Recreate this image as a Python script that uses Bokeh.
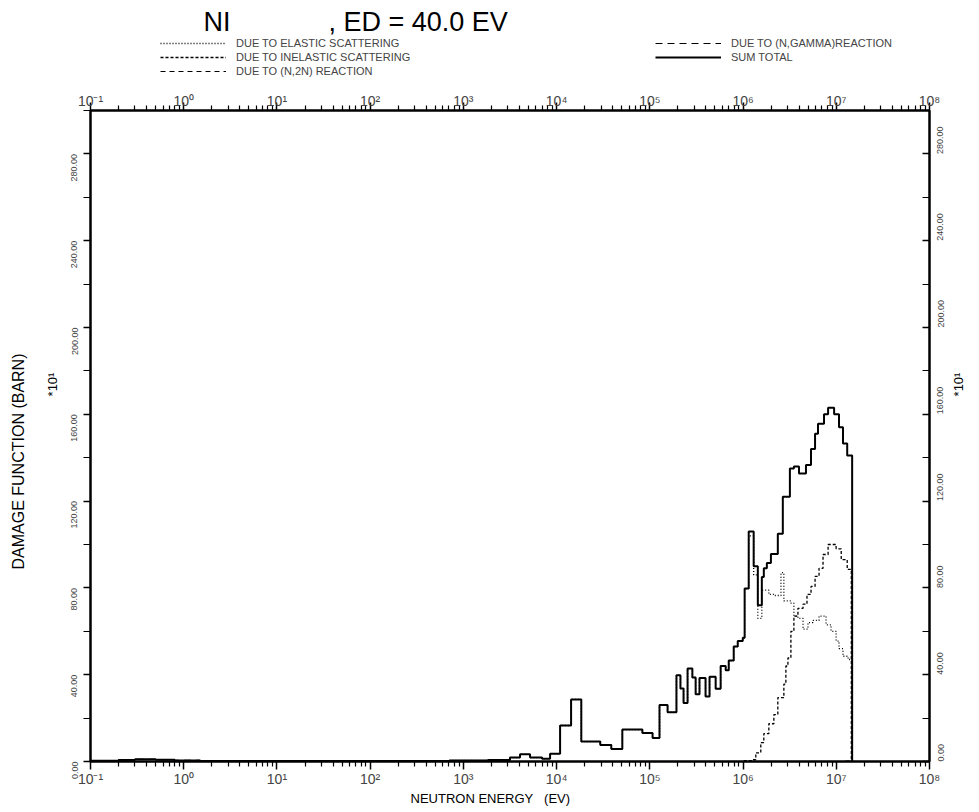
import math
from bokeh.plotting import figure
from bokeh.layouts import column, row
from bokeh.models import (LogAxis, LinearAxis, FixedTicker, NumeralTickFormatter,
                          CustomJSTickFormatter, Label, Legend, LegendItem, Range1d)
from bokeh.embed import file_html
from bokeh.resources import INLINE

# ---------------- texts ----------------
title_element = "NI"
title_rest = ", ED = 40.0 EV"
x_label = "NEUTRON ENERGY\u00a0\u00a0\u00a0(EV)"
y_label = "DAMAGE FUNCTION (BARN)"
y_scale_note = "*10¹"
legend_labels = ["DUE TO ELASTIC SCATTERING", "DUE TO INELASTIC SCATTERING",
                 "DUE TO (N,2N) REACTION", "DUE TO (N,GAMMA)REACTION", "SUM TOTAL"]

# ---------------- axes ----------------
x_decades = [-1, 0, 1, 2, 3, 4, 5, 6, 7, 8]
y_major_ticks = [0, 40, 80, 120, 160, 200, 240, 280]
y_minor_ticks = [20, 60, 100, 140, 180, 220, 260, 300]

# ---------------- data (damage function, x10^1 barn) ----------------
total_edges = [0.1, 0.2, 0.3, 0.5, 0.8, 1.5, 7.1e2, 1.83e3, 3.16e3, 4.05e3, 5.19e3,
               6.98e3, 8.51e3, 1.09e4, 1.43e4, 1.84e4, 2.94e4, 3.86e4, 5.07e4, 8.32e4,
               1.07e5, 1.27e5, 1.55e5, 1.93e5, 2.13e5, 2.30e5, 2.54e5, 2.86e5, 3.10e5,
               3.41e5, 3.96e5, 4.37e5, 5.08e5, 5.75e5, 6.51e5, 7.02e5, 7.94e5, 8.77e5,
               9.93e5, 1.04e6, 1.15e6, 1.30e6, 1.44e6, 1.59e6, 1.67e6, 1.80e6, 1.99e6,
               2.36e6, 2.67e6, 3.18e6, 3.51e6, 3.98e6, 4.73e6, 5.36e6, 5.92e6, 6.37e6,
               7.39e6, 8.17e6, 9.48e6, 1.07e7, 1.18e7, 1.31e7, 1.48e7]
total_values = [0.4, 0.7, 1.0, 0.8, 0.5, 0.2, 0.5, 0.7, 1.8, 3.3, 1.8, 1.3, 3.6,
                16.6, 28.6, 9.2, 7.6, 5.8, 14.7, 13.1, 10.8,
                26.0, 22.7, 39.8, 33.6, 27.0, 42.8, 38.7, 31.0, 38.5, 30.0, 39.0, 33.5,
                44.0, 42.0, 46.5, 53.0, 55.5, 57.0, 79.7,
                106.0, 90.0, 72.0, 85.0, 89.0, 91.5, 95.6, 105.0, 122.0, 135.0, 136.0,
                132.7, 136.6, 144.0, 151.0, 155.7, 160.0, 163.0, 160.0, 154.0, 146.5, 141.0]

elastic_edges = [7.1e2, 1.83e3, 3.16e3, 4.05e3, 5.19e3, 6.98e3, 8.51e3, 1.09e4, 1.43e4,
                 1.84e4, 2.94e4, 3.86e4, 5.07e4, 8.32e4, 1.07e5, 1.27e5, 1.55e5, 1.93e5,
                 2.13e5, 2.30e5, 2.54e5, 2.86e5, 3.10e5, 3.41e5, 3.96e5, 4.37e5, 5.08e5,
                 5.75e5, 6.51e5, 7.02e5, 7.94e5, 8.77e5, 9.93e5, 1.04e6, 1.15e6, 1.30e6,
                 1.44e6, 1.59e6, 1.67e6, 1.89e6, 2.14e6, 2.55e6, 2.74e6, 3.26e6, 3.51e6,
                 3.88e6, 4.40e6, 4.97e6, 5.63e6, 6.53e6, 7.77e6, 8.79e6, 9.96e6, 1.07e7,
                 1.18e7, 1.34e7, 1.48e7]
elastic_values = [0.5, 0.7, 1.8, 3.3, 1.8, 1.3, 3.6, 16.6, 28.6, 9.2, 7.6, 5.8, 14.7,
                  13.1, 10.8, 26.0, 22.7, 39.8, 33.6, 27.0, 42.8, 38.7, 31.0, 38.5, 30.0,
                  39.0, 33.5, 44.0, 42.0, 46.5, 53.0, 55.5, 57.0,
                  79.7, 104.0, 86.0, 66.0, 79.0, 79.0, 77.0, 76.5, 87.0, 74.0, 73.0, 67.0,
                  66.0, 61.0, 64.0, 65.0, 67.0, 63.0, 60.0, 55.5, 52.0, 48.5, 47.0]

inelastic_edges = [1.02e6, 1.27e6, 1.37e6, 1.55e6, 1.67e6, 1.89e6, 2.14e6, 2.36e6, 2.74e6,
                   2.88e6, 3.03e6, 3.26e6, 3.51e6, 3.88e6, 4.40e6, 4.85e6, 5.36e6, 5.92e6,
                   6.53e6, 7.21e6, 8.17e6, 9.96e6, 1.13e7, 1.31e7, 1.45e7]
inelastic_values = [0.4, 0.8, 4.0, 8.7, 12.8, 17.4, 21.6, 29.4, 35.7, 44.0, 47.7, 60.0,
                    67.0, 70.6, 72.5, 77.0, 80.7, 85.3, 89.0, 95.4, 100.0, 98.0, 93.0, 88.5]

n2n_edges = [1.25e7, 1.48e7]
n2n_values = [0.2]

ngamma_edges = [0.1, 0.2, 0.3, 0.5, 0.8, 1.5, 7.1e2]
ngamma_values = [0.4, 0.7, 1.0, 0.8, 0.5, 0.2]

FONT = "Liberation Sans"

# ---------------- line styles ----------------
STY_EL = dict(line_color="black", line_width=1.3, line_dash="1 2")
STY_IN = dict(line_color="black", line_width=1.3, line_dash="3 2")
STY_N2N = dict(line_color="black", line_width=1.2, line_dash="5 4")
STY_NG = dict(line_color="black", line_width=1.2, line_dash="7 5")
STY_TOT = dict(line_color="black", line_width=2)

# ---------------- canvas geometry ----------------
W, H = 979, 812
HEAD_H = 85                 # header with title and legend
FOOT_H = 22                 # footer with x-axis title
LEFT_W, RIGHT_W = 60, 28    # strips with y-axis titles
MAIN_W = W - LEFT_W - RIGHT_W
MAIN_H = H - HEAD_H - FOOT_H
FRAME_L, FRAME_R = 90, 929
FRAME_T, FRAME_B = 110, 761


def blank(width, height, far=False):
    rng = (-2, -1) if far else (0, 1)
    f = figure(width=width, height=height, output_backend="svg", toolbar_location=None,
               x_range=Range1d(*rng), y_range=Range1d(*rng), title=None,
               x_axis_location=None, y_axis_location=None, min_border=0)
    f.grid.visible = False
    f.outline_line_color = None
    f.background_fill_color = "white"
    f.border_fill_color = "white"
    return f


def add_text(f, fig_left, fig_top, fig_h, txt, cx, cy, size, angle=0.0,
             align="left", baseline="middle"):
    f.add_layout(Label(x=cx - fig_left, y=(fig_top + fig_h) - cy,
                       x_units="screen", y_units="screen", text=txt, angle=angle,
                       text_align=align, text_baseline=baseline, text_font=FONT,
                       text_font_size=size, text_color="black"))


# ---------------- main chart ----------------
p = figure(width=MAIN_W, height=MAIN_H, x_axis_type="log", title=None,
           x_range=Range1d(10.0 ** x_decades[0], 10.0 ** x_decades[-1]),
           y_range=Range1d(0, 300),
           output_backend="svg", toolbar_location=None,
           min_border_left=FRAME_L - LEFT_W, min_border_right=W - RIGHT_W - FRAME_R,
           min_border_top=FRAME_T - HEAD_H, min_border_bottom=HEAD_H + MAIN_H - FRAME_B)
p.grid.visible = False
p.outline_line_color = "black"
p.outline_line_width = 2
p.background_fill_color = "white"
p.border_fill_color = "white"


def step_pts(edges, vals):
    return list(edges), list(vals) + [0.0]


sx, sy = step_pts(ngamma_edges, ngamma_values)
p.step(sx, sy, mode="after", **STY_NG)
sx, sy = step_pts(n2n_edges, n2n_values)
p.step(sx, sy, mode="after", **STY_N2N)
sx, sy = step_pts(inelastic_edges, inelastic_values)
p.step(sx, sy, mode="after", **STY_IN)
sx, sy = step_pts(elastic_edges, elastic_values)
p.step(sx, sy, mode="after", **STY_EL)
sx, sy = step_pts(total_edges, total_values)
p.step(sx, sy, mode="after", **STY_TOT)

x_major = [10.0 ** d for d in x_decades]
x_minor = [m * 10.0 ** d for d in x_decades[:-1] for m in range(2, 10)]
fmt_code = """
const sup = {'-':'\u207b','0':'\u2070','1':'\u00b9','2':'\u00b2','3':'\u00b3','4':'\u2074',
             '5':'\u2075','6':'\u2076','7':'\u2077','8':'\u2078','9':'\u2079'};
const e = String(Math.round(Math.log10(tick)));
let s = '';
for (const c of e) { s += sup[c]; }
return '10' + s;
"""


def style_x(ax):
    ax.ticker = FixedTicker(ticks=x_major, minor_ticks=x_minor)
    ax.formatter = CustomJSTickFormatter(code=fmt_code)
    ax.axis_line_width = 2
    ax.major_tick_line_width = 1.5
    ax.minor_tick_line_width = 1.2
    ax.major_tick_in = 0
    ax.major_tick_out = 8
    ax.minor_tick_in = 0
    ax.minor_tick_out = 5
    ax.major_label_text_font = FONT
    ax.major_label_text_font_size = "14px"
    ax.major_label_standoff = 1


style_x(p.xaxis[0])
top = LogAxis()
style_x(top)
top.major_label_text_align = "left"
top.major_label_standoff = -6
p.add_layout(top, "above")


def style_y(ax, side):
    ax.ticker = FixedTicker(ticks=y_major_ticks, minor_ticks=y_minor_ticks)
    ax.formatter = NumeralTickFormatter(format="0.00")
    ax.axis_line_width = 2
    ax.major_tick_line_width = 1.5
    ax.minor_tick_line_width = 1.2
    if side == "left":
        ax.major_tick_in, ax.major_tick_out = 0, 7
        ax.minor_tick_in, ax.minor_tick_out = 0, 7
        ax.major_label_standoff = 9
    else:
        ax.major_tick_in, ax.major_tick_out = 7, 0
        ax.minor_tick_in, ax.minor_tick_out = 7, 0
        ax.major_label_standoff = 11
    ax.major_label_orientation = math.pi / 2
    ax.major_label_text_font = FONT
    ax.major_label_text_font_size = "9px"


style_y(p.yaxis[0], "left")
right = LinearAxis()
style_y(right, "right")
p.add_layout(right, "right")

# ---------------- header: title + legend ----------------
head = blank(W, HEAD_H, far=True)
add_text(head, 0, 0, HEAD_H, title_element, 203, 21, "27px")
add_text(head, 0, 0, HEAD_H, title_rest, 328, 21, "27px")
# legend keys: the same series, drawn outside the header's visible ranges
k_el = head.line(elastic_edges, elastic_values + [0.0], **STY_EL)
k_in = head.line(inelastic_edges, inelastic_values + [0.0], **STY_IN)
k_n2n = head.line(n2n_edges, n2n_values + [0.0], **STY_N2N)
k_ng = head.line(ngamma_edges, ngamma_values + [0.0], **STY_NG)
k_tot = head.line(total_edges, total_values + [0.0], **STY_TOT)

leg_common = dict(orientation="vertical", glyph_width=66, glyph_height=12, label_height=12,
                  label_standoff=10, spacing=2, padding=0, margin=0,
                  background_fill_alpha=0, border_line_alpha=0,
                  label_text_font=FONT, label_text_font_size="11px")
leg1 = Legend(items=[LegendItem(label=legend_labels[0], renderers=[k_el]),
                     LegendItem(label=legend_labels[1], renderers=[k_in]),
                     LegendItem(label=legend_labels[2], renderers=[k_n2n])],
              location=(160, HEAD_H - 77), **leg_common)
leg2 = Legend(items=[LegendItem(label=legend_labels[3], renderers=[k_ng]),
                     LegendItem(label=legend_labels[4], renderers=[k_tot])],
              location=(655, HEAD_H - 63), **leg_common)
head.add_layout(leg1)
head.add_layout(leg2)

# ---------------- side strips ----------------
left = blank(LEFT_W, MAIN_H)
add_text(left, 0, HEAD_H, MAIN_H, y_label, 18, 490, "16px", angle=math.pi / 2, align="center")
add_text(left, 0, HEAD_H, MAIN_H, y_scale_note, 52, 413, "13px", angle=math.pi / 2,
         align="center")

rstrip = blank(RIGHT_W, MAIN_H)
add_text(rstrip, W - RIGHT_W, HEAD_H, MAIN_H, y_scale_note, 958, 413, "13px",
         angle=math.pi / 2, align="center")

foot = blank(W, FOOT_H)
add_text(foot, 0, HEAD_H + MAIN_H, FOOT_H, x_label, 410, 798, "13px")

layout = column(head, row(left, p, rstrip, spacing=0), foot, spacing=0)
open("out.html", "w").write(file_html(layout, INLINE))
